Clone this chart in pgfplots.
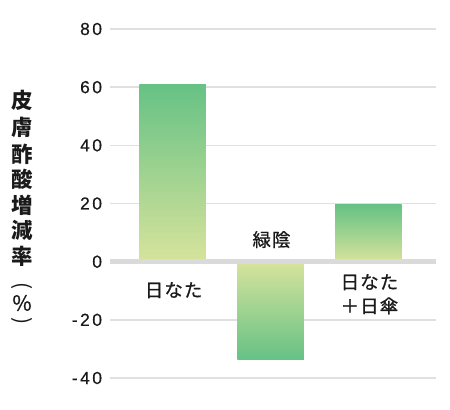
\documentclass[border=0pt]{standalone}
\usepackage{fontspec}
\setmainfont{Liberation Sans}
\newfontfamily\cjk{Noto Sans CJK JP}
\newfontfamily\cjkwide[LetterSpace=6,FakeBold=0.8]{Noto Sans CJK JP}
\newfontfamily\tickfont[LetterSpace=14,FakeBold=0.4]{Liberation Sans}
\usepackage{pgfplots}
\pgfplotsset{compat=1.18}

\definecolor{bartop}{RGB}{102,194,133}
\definecolor{barbot}{RGB}{215,227,156}
\definecolor{gridc}{RGB}{224,224,224}
\definecolor{zeroc}{RGB}{218,218,218}
\definecolor{txt}{RGB}{26,26,26}

\begin{document}
\begin{tikzpicture}
\begin{axis}[
    scale only axis,
    width=326bp, height=349bp,
    xmin=-0.64, xmax=2.69,
    ymin=-40, ymax=80,
    ytick={-40,-20,0,20,40,60,80},
    yticklabels={-40,-20,0,20,40,60,80},
    yticklabel style={font=\tickfont\fontsize{17.5}{19}\selectfont, text=txt, anchor=east, xshift=-4.5bp},
    xtick=\empty,
    axis line style={draw=none},
    major tick length=0pt,
    ymajorgrids,
    grid style={gridc, line width=1.6bp},
    clip=false,
    bar width=0.68,
]
  % each bar shaded from its far end (dark) to the zero line (light)
  \addplot[ybar, bar shift=0pt, draw=none, top color=bartop, bottom color=barbot]
    coordinates {(0,61)};
  \addplot[ybar, bar shift=0pt, draw=none, top color=barbot, bottom color=bartop]
    coordinates {(1,-33.5)};
  \addplot[ybar, bar shift=0pt, draw=none, top color=bartop, bottom color=barbot]
    coordinates {(2,19.5)};

  \draw[zeroc, line width=4.5bp] (axis cs:-0.64,0) -- (axis cs:2.69,0);

  \begin{scope}[every node/.style={font=\cjkwide\fontsize{18.5}{24}\selectfont, text=txt, align=center}]
    \node at (axis cs:0.01,-9.8) {日なた};
    \node at (axis cs:1.01,7.6) {緑陰};
    \node at (axis cs:2.01,-11.2) {日なた\\＋日傘};
  \end{scope}
\end{axis}
\begin{scope}[every node/.style={font=\cjk\bfseries\fontsize{21.5}{21.5}\selectfont, text=txt}]
  \foreach \c/\y in {皮/278, 膚/251, 酢/224, 酸/199, 増/173, 減/148, 率/122}
    \node at (-88bp,\y bp) {\c};
  \node[rotate=-90, font=\cjk\fontsize{21}{21}\selectfont] at (-88bp,92bp) {(};
  \node[font=\cjkwide\fontsize{21}{21}\selectfont] at (-88bp,75bp) {\%};
  \node[rotate=-90, font=\cjk\fontsize{21}{21}\selectfont] at (-88bp,57bp) {)};
\end{scope}
\pgfresetboundingbox
\useasboundingbox (-110bp,-32bp) rectangle (340bp,378bp);
\end{tikzpicture}
\end{document}
